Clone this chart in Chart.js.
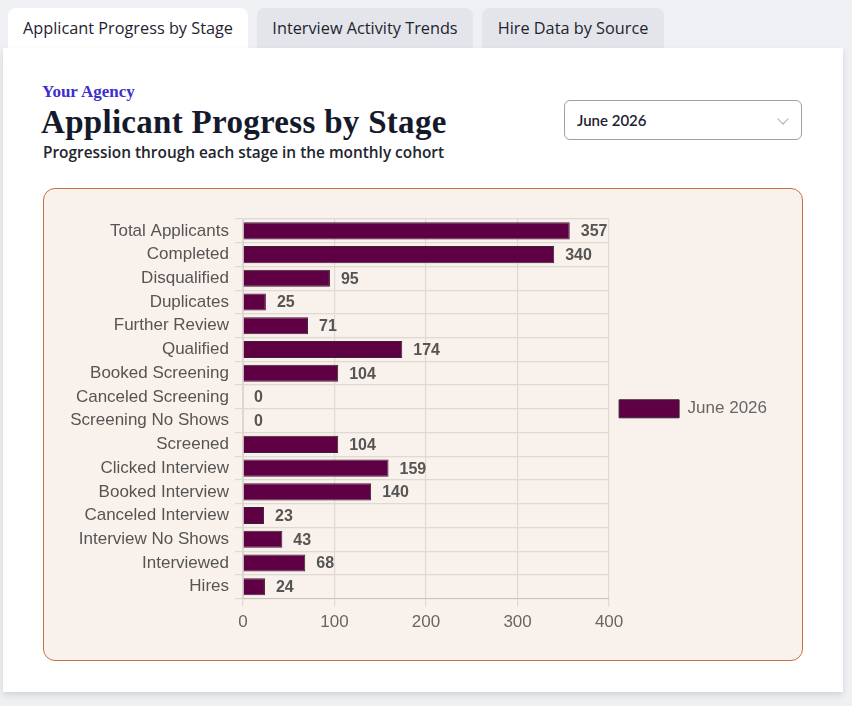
<!DOCTYPE html>
<html>
<head>
<meta charset="utf-8">
<script src="https://cdn.jsdelivr.net/npm/chart.js@4/dist/chart.umd.min.js"></script>
<style>
  html, body { margin: 0; padding: 0; }
  body { width: 852px; height: 706px; background: #eff0f3; font-family: "Open Sans", Lato, sans-serif; position: relative; overflow: hidden; }
  .tab { position: absolute; top: 8px; height: 40px; border-radius: 8px 8px 0 0; background: #e3e5ea; font-size: 16.3px; font-weight: 500; color: #1f2330; line-height: 40px; text-align: center; }
  .tab.active { background: #fff; }
  .card { position: absolute; left: 3px; top: 48px; width: 840px; height: 644px; background: #fff; box-shadow: 0 3px 6px rgba(0,0,0,0.12); }
  .agency { position: absolute; left: 39px; top: 34px; font-family: "Liberation Serif", serif; font-weight: bold; font-size: 17px; color: #3d2fcc; }
  .title { position: absolute; left: 38px; top: 56px; font-family: "Liberation Serif", serif; font-weight: bold; font-size: 33px; color: #141a2b; letter-spacing: 0.3px; }
  .subtitle { position: absolute; left: 40px; top: 94px; font-size: 15.4px; font-weight: 600; color: #22252e; }
  .select { position: absolute; left: 561px; top: 52px; width: 238px; height: 40px; border: 1px solid #9ba1ad; border-radius: 6px; box-sizing: border-box; font-family: Lato, sans-serif; font-size: 15px; font-weight: 600; color: #1d2130; line-height: 38px; padding-left: 12px; }
  .chev { position: absolute; right: 14px; top: 14px; width: 7px; height: 7px; border-right: 1px solid #aab0ba; border-bottom: 1px solid #aab0ba; transform: rotate(45deg); }
  .box { position: absolute; left: 40px; top: 140px; width: 760px; height: 473px; background: #f9f1eb; border: 1px solid #c8703f; border-radius: 12px; box-sizing: border-box; }
  .box canvas { position: absolute; left: 0; top: 0; }
</style>
</head>
<body>
<div class="tab active" style="left:8px;width:240px;">Applicant Progress by Stage</div>
<div class="tab" style="left:257px;width:216px;">Interview Activity Trends</div>
<div class="tab" style="left:482px;width:182px;">Hire Data by Source</div>
<div class="card">
  <div class="agency">Your Agency</div>
  <div class="title">Applicant Progress by Stage</div>
  <div class="subtitle">Progression through each stage in the monthly cohort</div>
  <div class="select">June 2026<div class="chev"></div></div>
  <div class="box"><canvas id="stages" width="758" height="450"></canvas></div>
</div>
<script>
const stages = ['Total Applicants', 'Completed', 'Disqualified', 'Duplicates', 'Further Review', 'Qualified',
  'Booked Screening', 'Canceled Screening', 'Screening No Shows', 'Screened', 'Clicked Interview',
  'Booked Interview', 'Canceled Interview', 'Interview No Shows', 'Interviewed', 'Hires'];
const june2026 = [357, 340, 95, 25, 71, 174, 104, 0, 0, 104, 159, 140, 23, 43, 68, 24];
const seriesLabel = 'June 2026';
const xTicks = [0, 100, 200, 300, 400];

// draws the value next to each bar
const barValues = {
  id: 'barValues',
  afterDatasetsDraw(chart) {
    const ctx = chart.ctx;
    ctx.save();
    ctx.font = 'bold 16px "Liberation Sans", Arial, sans-serif';
    ctx.fillStyle = '#555';
    ctx.textBaseline = 'middle';
    chart.getDatasetMeta(0).data.forEach((bar, i) => {
      ctx.fillText(chart.data.datasets[0].data[i], bar.x + 11, bar.y + 1);
    });
    ctx.restore();
  }
};

const axisFont = { family: '"Liberation Sans", Arial', size: 17 };

new Chart(document.getElementById('stages'), {
  type: 'bar',
  data: {
    labels: stages,
    datasets: [{
      label: seriesLabel,
      data: june2026,
      backgroundColor: '#5f0045',
      borderColor: '#3b2232',
      borderWidth: 1,
      barPercentage: 0.9,
      categoryPercentage: 0.8
    }]
  },
  options: {
    indexAxis: 'y',
    responsive: false,
    animation: false,
    layout: { padding: { top: 30, left: 21, right: 25, bottom: 0 } },
    scales: {
      x: {
        min: xTicks[0], max: xTicks[xTicks.length - 1],
        ticks: { stepSize: xTicks[1] - xTicks[0], color: '#666', font: axisFont, padding: 6 },
        grid: { color: '#e0d9d3', lineWidth: 1.2 }
      },
      y: {
        ticks: { color: '#555', font: axisFont, autoSkip: false, padding: 6 },
        grid: { color: '#e0d9d3', lineWidth: 1.2 }
      }
    },
    plugins: {
      legend: {
        position: 'right',
        fullSize: false,
        labels: { boxWidth: 60, boxHeight: 18, color: '#666', font: axisFont }
      },
      tooltip: { enabled: false }
    }
  },
  plugins: [barValues]
});
</script>
</body>
</html>
